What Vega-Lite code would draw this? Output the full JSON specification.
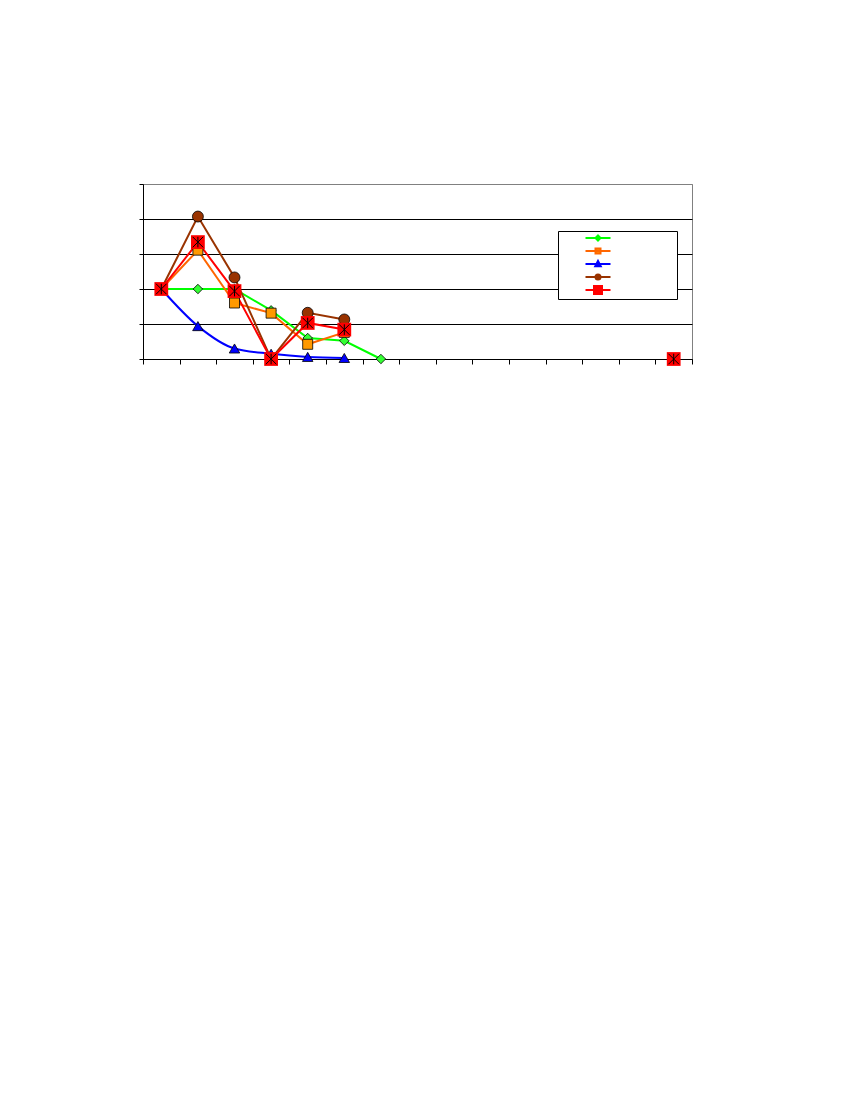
{
  "$schema": "https://vega.github.io/schema/vega-lite/v6.json",
  "width": 549,
  "height": 175,
  "autosize": {"type": "none"},
  "padding": {"left": 143, "top": 184, "right": 158, "bottom": 741},
  "background": "white",
  "config": {
    "view": {"stroke": "#808080", "strokeWidth": 1},
    "axis": {"domainColor": "black", "tickColor": "black", "labels": false, "title": null}
  },
  "data": {
    "values": [
      {"s": "Series1", "i": 1, "v": 2},
      {"s": "Series1", "i": 2, "v": 2},
      {"s": "Series1", "i": 3, "v": 2},
      {"s": "Series1", "i": 4, "v": 1.39},
      {"s": "Series1", "i": 5, "v": 0.6},
      {"s": "Series1", "i": 6, "v": 0.52},
      {"s": "Series1", "i": 7, "v": 0},
      {"s": "Series2", "i": 1, "v": 2},
      {"s": "Series2", "i": 2, "v": 3.11},
      {"s": "Series2", "i": 3, "v": 1.6},
      {"s": "Series2", "i": 4, "v": 1.31},
      {"s": "Series2", "i": 5, "v": 0.42},
      {"s": "Series2", "i": 6, "v": 0.76},
      {"s": "Series3", "i": 1, "v": 2},
      {"s": "Series3", "i": 2, "v": 0.94},
      {"s": "Series3", "i": 3, "v": 0.3},
      {"s": "Series3", "i": 4, "v": 0.15},
      {"s": "Series3", "i": 5, "v": 0.06},
      {"s": "Series3", "i": 6, "v": 0.03},
      {"s": "Series4", "i": 1, "v": 2},
      {"s": "Series4", "i": 2, "v": 4.07},
      {"s": "Series4", "i": 3, "v": 2.33},
      {"s": "Series4", "i": 4, "v": 0},
      {"s": "Series4", "i": 5, "v": 1.32},
      {"s": "Series4", "i": 6, "v": 1.13},
      {"s": "Series5", "i": 1, "v": 2},
      {"s": "Series5", "i": 2, "v": 3.34},
      {"s": "Series5", "i": 3, "v": 1.94},
      {"s": "Series5", "i": 4, "v": 0},
      {"s": "Series5", "i": 5, "v": 1.03},
      {"s": "Series5", "i": 6, "v": 0.84},
      {"s": "Series5", "i": 15, "v": 0}
    ]
  },
  "encoding": {
    "x": {
      "field": "i",
      "type": "quantitative",
      "scale": {"domain": [0.5, 15.5], "nice": false, "zero": false},
      "axis": {
        "values": [0.5, 1.5, 2.5, 3.5, 4.5, 5.5, 6.5, 7.5, 8.5, 9.5, 10.5, 11.5, 12.5, 13.5, 14.5, 15.5],
        "grid": false,
        "tickSize": 5
      }
    },
    "y": {
      "field": "v",
      "type": "quantitative",
      "scale": {"domain": [0, 5], "nice": false},
      "axis": {
        "values": [0, 1, 2, 3, 4, 5],
        "grid": true,
        "gridColor": {"condition": {"test": "datum.value === 5", "value": "#808080"}, "value": "black"},
        "gridOpacity": 1,
        "gridWidth": 1,
        "tickSize": 4
      }
    }
  },
  "layer": [
    {
      "transform": [{"filter": "datum.i < 15 && datum.s !== 'Series3'"}],
      "mark": {"type": "line", "strokeWidth": 2},
      "encoding": {
        "color": {
          "field": "s",
          "type": "nominal",
          "scale": {
            "domain": ["Series1", "Series2", "Series3", "Series4", "Series5"],
            "range": ["#00FF00", "#FF6600", "#0000FF", "#993300", "#FF0000"]
          },
          "legend": {
            "title": null,
            "orient": "none",
            "legendX": 415,
            "legendY": 47,
            "strokeColor": "black",
            "fillColor": "white",
            "padding": 1,
            "symbolSize": 100,
            "symbolOffset": 33,
            "rowPadding": -2,
            "labelExpr": "''",
            "labelOffset": 72,
            "labelFontSize": 10,
            "encode": {
              "symbols": {
                "update": {
                  "shape": {"signal": "datum.value === 'Series1' ? 'M-2.5,0H2.5M0,-0.5L0.5,0L0,0.5L-0.5,0Z' : datum.value === 'Series2' ? 'M-2.5,0H2.5M-0.5,-0.5H0.5V0.5H-0.5Z' : datum.value === 'Series3' ? 'M-2.5,0H2.5M0,-0.6L0.55,0.45H-0.55Z' : datum.value === 'Series4' ? 'M-2.5,0H2.5M-0.5,0A0.5,0.5 0 1,0 0.5,0A0.5,0.5 0 1,0 -0.5,0Z' : 'M-2.5,0H2.5M-0.8,-0.8H0.8V0.8H-0.8Z'"},
                  "fill": {"signal": "datum.value === 'Series1' ? '#33FF33' : datum.value === 'Series2' ? '#FF9900' : datum.value === 'Series3' ? '#0000FF' : datum.value === 'Series4' ? '#993300' : '#FF0000'"},
                  "stroke": {"signal": "scale('color', datum.value)"},
                  "strokeWidth": {"value": 2},
                  "opacity": {"value": 1}
                }
              }
            }
          }
        }
      }
    },
    {
      "transform": [{"filter": "datum.s === 'Series3'"}],
      "mark": {"type": "line", "strokeWidth": 2, "interpolate": "monotone"},
      "encoding": {
        "color": {"field": "s", "type": "nominal"}
      }
    },
    {
      "transform": [{"filter": "datum.s !== 'Series5'"}],
      "mark": {"type": "point", "filled": true, "stroke": "black", "strokeWidth": 0.8, "opacity": 1},
      "encoding": {
        "shape": {
          "field": "s",
          "type": "nominal",
          "scale": {
            "domain": ["Series1", "Series2", "Series3", "Series4"],
            "range": ["diamond", "square", "triangle-up", "circle"]
          },
          "legend": null
        },
        "fill": {
          "field": "s",
          "type": "nominal",
          "scale": {
            "domain": ["Series1", "Series2", "Series3", "Series4"],
            "range": ["#33FF33", "#FF9900", "#0000FF", "#993300"]
          },
          "legend": null
        },
        "size": {
          "field": "s",
          "type": "nominal",
          "scale": {
            "domain": ["Series1", "Series2", "Series3", "Series4"],
            "range": [90, 120, 110, 100]
          },
          "legend": null
        }
      }
    },
    {
      "transform": [{"filter": "datum.s === 'Series5'"}],
      "mark": {"type": "point", "shape": "square", "filled": true, "fill": "#FF0000", "strokeWidth": 0, "size": 190, "opacity": 1}
    },
    {
      "transform": [{"filter": "datum.s === 'Series5'"}],
      "mark": {"type": "point", "shape": "M-1,-1L1,1M-1,1L1,-1M0,-1V1", "filled": false, "stroke": "black", "strokeWidth": 1, "size": 110, "opacity": 1}
    }
  ]
}
